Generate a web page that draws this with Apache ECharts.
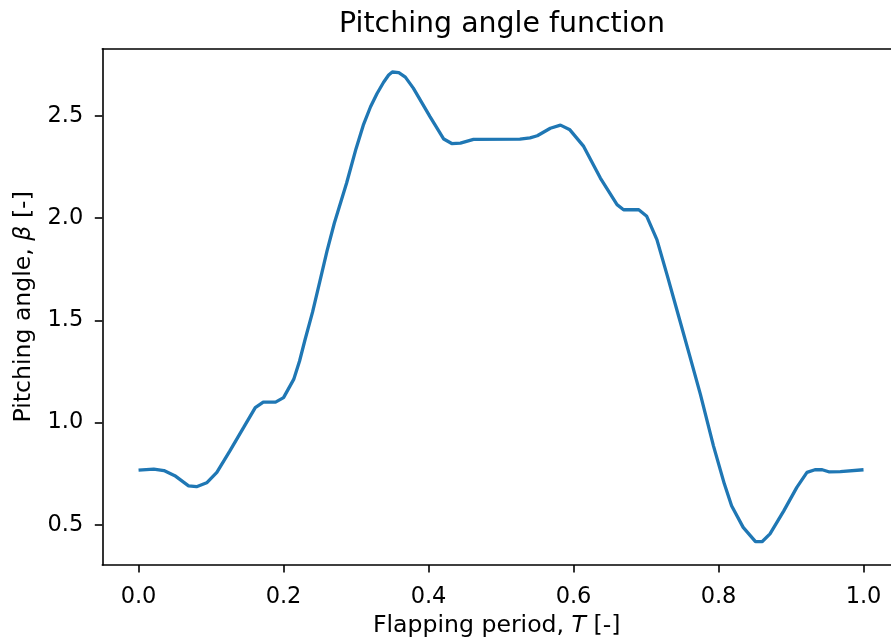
<!DOCTYPE html>
<html>
<head>
<meta charset="utf-8">
<script src="https://cdn.jsdelivr.net/npm/echarts@6/dist/echarts.min.js"></script>
<style>html,body{margin:0;padding:0;background:#fff}#c{width:891px;height:643px}</style>
</head>
<body>
<div id="c"></div>
<script>
// Data
const periodT = [0.000,0.021,0.035,0.050,0.069,0.080,0.094,0.108,0.126,0.145,0.161,0.172,0.189,0.200,0.214,0.222,0.230,0.240,0.250,0.260,0.270,0.287,0.300,0.310,0.320,0.329,0.338,0.345,0.350,0.359,0.368,0.379,0.402,0.421,0.432,0.444,0.462,0.526,0.540,0.550,0.568,0.582,0.595,0.614,0.637,0.660,0.669,0.690,0.701,0.715,0.730,0.745,0.760,0.775,0.793,0.808,0.818,0.834,0.851,0.860,0.871,0.890,0.908,0.922,0.933,0.943,0.952,0.968,1.000];
const pitchBeta = [0.767,0.772,0.765,0.740,0.690,0.686,0.705,0.756,0.861,0.976,1.073,1.100,1.100,1.122,1.211,1.300,1.410,1.540,1.690,1.840,1.975,2.172,2.340,2.455,2.545,2.610,2.665,2.700,2.715,2.712,2.690,2.636,2.497,2.387,2.365,2.367,2.385,2.387,2.393,2.403,2.440,2.455,2.432,2.351,2.196,2.066,2.041,2.041,2.009,1.895,1.710,1.520,1.330,1.138,0.886,0.700,0.593,0.487,0.417,0.417,0.455,0.568,0.683,0.756,0.769,0.769,0.759,0.760,0.769];
const xTicks = [0.0,0.2,0.4,0.6,0.8,1.0];
const yTicks = [0.5,1.0,1.5,2.0,2.5];
const titleText = 'Pitching angle function';

const seriesData = periodT.map((t,i)=>[t,pitchBeta[i]]);
const FONT = 'DejaVu Sans';
const TICKFS = 22.5, LABFS = 23.6;
const axisLine = {show:true, onZero:false, lineStyle:{color:'#000', width:1.6}};
const chart = echarts.init(document.getElementById('c'), null, {renderer:'canvas'});
chart.setOption({
  animation:false,
  backgroundColor:'#fff',
  title:{text:titleText, left:497, top:6, textAlign:'center',
    textStyle:{fontFamily:FONT, fontSize:28.4, fontWeight:'normal', color:'#000'}},
  grid:{left:102.3, right:0, top:48.7, bottom:77, containLabel:false},
  xAxis:[{
    type:'value', min:-0.05, max:1.0379,
    axisLine:axisLine,
    axisTick:{show:true, inside:false, length:7.5, customValues:xTicks, lineStyle:{color:'#000', width:1.6}},
    axisLabel:{show:true, margin:21, customValues:xTicks, formatter:v=>v.toFixed(1),
      fontFamily:FONT, fontSize:TICKFS, color:'#000'},
    splitLine:{show:false},
    name:'{n|Flapping period, }{i|T}{n| [-]}',
    nameLocation:'middle', nameGap:49,
    nameTextStyle:{rich:{n:{fontFamily:FONT,fontSize:LABFS,color:'#000'},i:{fontFamily:FONT,fontSize:LABFS,fontStyle:'italic',color:'#000'}}}
  },{
    type:'value', position:'top', min:-0.05, max:1.0379,
    axisLine:axisLine, axisTick:{show:false}, axisLabel:{show:false}, splitLine:{show:false}
  }],
  yAxis:[{
    type:'value', min:0.303, max:2.829,
    axisLine:axisLine,
    axisTick:{show:true, inside:false, length:7.5, customValues:yTicks, lineStyle:{color:'#000', width:1.6}},
    axisLabel:{show:true, margin:19, customValues:yTicks, formatter:v=>v.toFixed(1),
      fontFamily:FONT, fontSize:TICKFS, color:'#000'},
    splitLine:{show:false},
    name:'{n|Pitching angle, }{i|β}{n| [-]}',
    nameLocation:'middle', nameGap:66, nameRotate:90,
    nameTextStyle:{rich:{n:{fontFamily:FONT,fontSize:LABFS,color:'#000'},i:{fontFamily:FONT,fontSize:LABFS,fontStyle:'italic',color:'#000'}}}
  }],
  series:[{
    type:'line', data:seriesData, showSymbol:false, smooth:false,
    lineStyle:{color:'#1f77b4', width:3.3}, itemStyle:{color:'#1f77b4'}
  }]
});
</script>
</body>
</html>
